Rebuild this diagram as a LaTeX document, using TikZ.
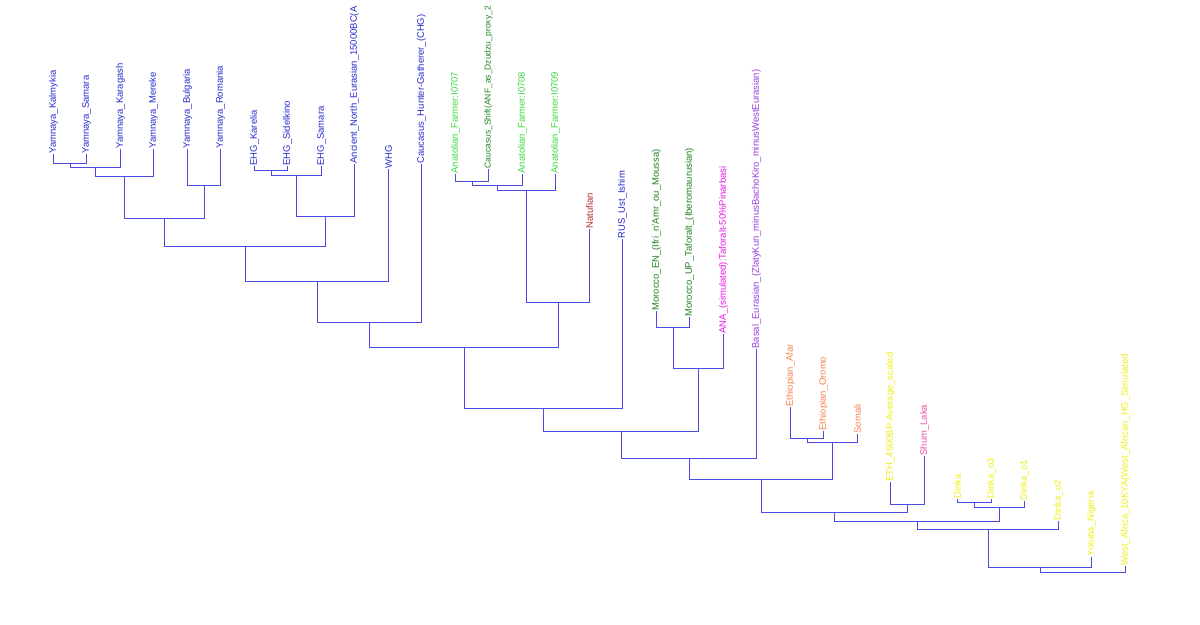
\documentclass[tikz,border=0pt]{standalone}
\usepackage{fontspec}
\setmainfont{Liberation Sans}
\definecolor{lineblue}{RGB}{75,75,225}
\definecolor{lblue}{RGB}{40,40,205}
\definecolor{lgreen}{RGB}{60,215,60}
\definecolor{dgreen}{RGB}{30,130,30}
\definecolor{natu}{RGB}{175,45,35}
\definecolor{magen}{RGB}{230,20,230}
\definecolor{purp}{RGB}{150,60,220}
\definecolor{coral}{RGB}{245,130,80}
\definecolor{yell}{RGB}{238,238,20}
\definecolor{pinkk}{RGB}{232,80,160}
\tikzset{
  lbl/.style={rotate=90, anchor=west, inner sep=1pt, font=\fontsize{7.1}{8}\selectfont},
  br/.style={draw=lineblue, line width=0.8pt, line cap=rect}
}
\begin{document}
\begin{tikzpicture}[x=0.75pt, y=-0.75pt]
\useasboundingbox (0,0) rectangle (1200,625);
\clip (0,0) rectangle (1200,625);
% leaves
\node[lbl, text=lblue] (kalm) at (53.5,155) {Yamnaya\_Kalmykia};
\node[lbl, text=lblue] (ysam) at (86.5,155) {Yamnaya\_Samara};
\node[lbl, text=lblue] (kara) at (120.5,150) {Yamnaya\_Karagash};
\node[lbl, text=lblue] (mere) at (153.5,150) {Yamnaya\_Mereke};
\node[lbl, text=lblue] (bulg) at (187.5,150) {Yamnaya\_Bulgaria};
\node[lbl, text=lblue] (roma) at (220.5,150) {Yamnaya\_Romania};
\node[lbl, text=lblue] (kare) at (254.5,167) {EHG\_Karelia};
\node[lbl, text=lblue] (side) at (287.5,167) {EHG\_Sidelkino};
\node[lbl, text=lblue] (esam) at (321.5,167) {EHG\_Samara};
\node[lbl, text=lblue] (ane) at (354.5,165) {Ancient\_North\_Eurasian\_15000BC(A};
\node[lbl, text=lblue] (whg) at (388.5,170) {WHG};
\node[lbl, text=lblue] (chg) at (421.5,165) {Caucasus\_Hunter-Gatherer\_(CHG)};
\node[lbl, text=lgreen] (af7) at (455.5,175) {Anatolian\_Farmer:I0707};
\node[lbl, text=dgreen, font=\fontsize{6.4}{7}\selectfont] (cs) at (488.5,170) {Caucasus\_Shift(ANF\_as\_Dzudzu\_proxy\_2};
\node[lbl, text=lgreen] (af8) at (522.5,175) {Anatolian\_Farmer:I0708};
\node[lbl, text=lgreen] (af9) at (555.5,175) {Anatolian\_Farmer:I0709};
\node[lbl, text=natu] (natu) at (589.5,230) {Natufian};
\node[lbl, text=lblue] (rus) at (622.5,240) {RUS\_Ust\_Ishim};
\node[lbl, text=dgreen] (moen) at (656.5,312) {Morocco\_EN\_(Ifri\_n'Amr\_ou\_Moussa)};
\node[lbl, text=dgreen] (moup) at (689.5,318) {Morocco\_UP\_Taforalt\_(Iberomaurusian)};
\node[lbl, text=magen] (ana) at (723.5,335) {ANA\_(simulated):Taforalt-50\%Pinarbasi};
\node[lbl, text=purp] (basal) at (756.5,350) {Basal\_Eurasian\_(ZlatyKun\_minusBachoKiro\_minusWestEurasian)};
\node[lbl, text=coral] (afar) at (790.5,408) {Ethiopian\_Afar};
\node[lbl, text=coral] (orom) at (823.5,432) {Ethiopian\_Oromo};
\node[lbl, text=coral] (soma) at (857.5,435) {Somali};
\node[lbl, text=yell] (eth) at (890.5,483) {ETH\_4500BP-Average\_scaled};
\node[lbl, text=pinkk] (shum) at (924.5,457) {Shum\_Laka};
\node[lbl, text=yell] (dink) at (957.5,500) {Dinka};
\node[lbl, text=yell] (do3) at (991.5,500) {Dinka\_o3};
\node[lbl, text=yell] (do1) at (1024.5,502) {Dinka\_o1};
\node[lbl, text=yell] (do2) at (1058.5,522) {Dinka\_o2};
\node[lbl, text=yell] (yoru) at (1091.5,558) {Yoruba\_Nigeria};
\node[lbl, text=yell] (wa) at (1125.5,567) {West\_Africa\_10KYA(West\_African\_HG\_Simulated};
% internal nodes
\coordinate (n1) at (70.5,163.5);
\coordinate (n2) at (95.5,167.5);
\coordinate (n3) at (124.5,176.5);
\coordinate (n4) at (204.5,185.5);
\coordinate (n5) at (164.5,218.5);
\coordinate (e1) at (271.5,170.5);
\coordinate (e2) at (296.5,175.5);
\coordinate (e3) at (325.5,216.5);
\coordinate (nL) at (245.5,246.5);
\coordinate (nK) at (317.5,281.5);
\coordinate (nJ) at (369.5,322.5);
\coordinate (a1) at (472.5,181.5);
\coordinate (a2) at (497.5,185.5);
\coordinate (a3) at (526.5,190.5);
\coordinate (an) at (558.5,302.5);
\coordinate (nI) at (464.5,347.5);
\coordinate (nH) at (543.5,408.5);
\coordinate (m1) at (673.5,327.5);
\coordinate (m2) at (698.5,368.5);
\coordinate (nG) at (621.5,431.5);
\coordinate (nF) at (689.5,458.5);
\coordinate (t1) at (807.5,438.5);
\coordinate (t2) at (832.5,442.5);
\coordinate (nE) at (761.5,479.5);
\coordinate (s1) at (907.5,504.5);
\coordinate (nD) at (834.5,512.5);
\coordinate (d1) at (974.5,502.5);
\coordinate (d2) at (999.5,507.5);
\coordinate (nC) at (917.5,521.5);
\coordinate (nB) at (988.5,529.5);
\coordinate (nA) at (1040.5,567.5);
\coordinate (root) at (1083.5,572.5);
% branches
\draw[br] (kalm.west) |- (n1) -| (ysam.west);
\draw[br] (n1) |- (n2) -| (kara.west);
\draw[br] (n2) |- (n3) -| (mere.west);
\draw[br] (bulg.west) |- (n4) -| (roma.west);
\draw[br] (n3) |- (n5) -| (n4);
\draw[br] (kare.west) |- (e1) -| (side.west);
\draw[br] (e1) |- (e2) -| (esam.west);
\draw[br] (e2) |- (e3) -| (ane.west);
\draw[br] (n5) |- (nL) -| (e3);
\draw[br] (nL) |- (nK) -| (whg.west);
\draw[br] (nK) |- (nJ) -| (chg.west);
\draw[br] (af7.west) |- (a1) -| (cs.west);
\draw[br] (a1) |- (a2) -| (af8.west);
\draw[br] (a2) |- (a3) -| (af9.west);
\draw[br] (a3) |- (an) -| (natu.west);
\draw[br] (nJ) |- (nI) -| (an);
\draw[br] (nI) |- (nH) -| (rus.west);
\draw[br] (moen.west) |- (m1) -| (moup.west);
\draw[br] (m1) |- (m2) -| (ana.west);
\draw[br] (nH) |- (nG) -| (m2);
\draw[br] (nG) |- (nF) -| (basal.west);
\draw[br] (afar.west) |- (t1) -| (orom.west);
\draw[br] (t1) |- (t2) -| (soma.west);
\draw[br] (nF) |- (nE) -| (t2);
\draw[br] (eth.west) |- (s1) -| (shum.west);
\draw[br] (nE) |- (nD) -| (s1);
\draw[br] (dink.west) |- (d1) -| (do3.west);
\draw[br] (d1) |- (d2) -| (do1.west);
\draw[br] (nD) |- (nC) -| (d2);
\draw[br] (nC) |- (nB) -| (do2.west);
\draw[br] (nB) |- (nA) -| (yoru.west);
\draw[br] (nA) |- (root) -| (wa.west);
\end{tikzpicture}
\end{document}
